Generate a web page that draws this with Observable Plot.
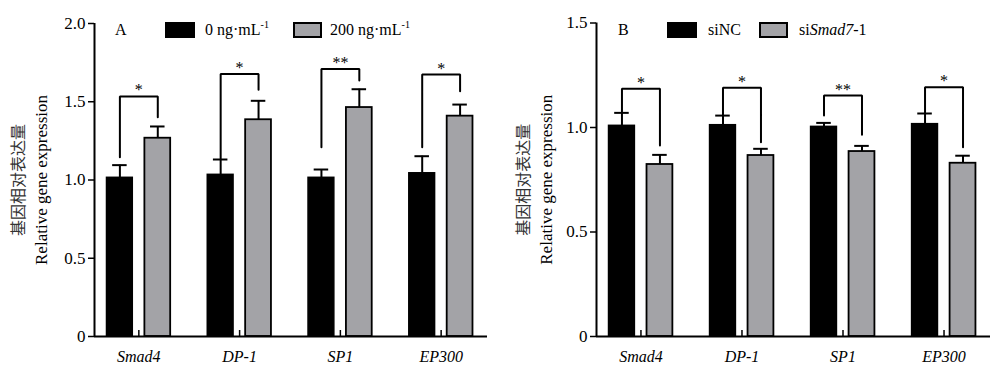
<!DOCTYPE html>
<html><head><meta charset="utf-8">
<script src="https://cdn.jsdelivr.net/npm/d3@7"></script>
<script src="https://cdn.jsdelivr.net/npm/@observablehq/plot@0.6"></script>
<style>
body{margin:0;background:#fff;}
#wrap{position:relative;width:1000px;height:378px;font-family:"Liberation Serif","Times New Roman",serif;color:#000;}
.panel{position:absolute;top:0;width:500px;height:378px;}
.lg{position:absolute;top:22px;font-size:16px;line-height:16px;white-space:nowrap;font-family:"Liberation Serif",serif;}
.lg sup{font-size:10px;position:relative;top:-2px;vertical-align:top;line-height:10px;}
.sw{position:absolute;top:22px;box-sizing:border-box;border:1.5px solid #000;height:16px;}
</style>
</head><body>
<div id="wrap">
  <div class="panel" id="pA" style="left:0"></div>
  <div class="panel" id="pB" style="left:500px"></div>
  <div class="lg" style="left:115px">A</div>
  <div class="sw" style="left:165px;width:30px;background:#000"></div>
  <div class="lg" style="left:205px">0 ng·mL<sup>-1</sup></div>
  <div class="sw" style="left:293px;width:29px;background:#a3a3a7;border-width:2px"></div>
  <div class="lg" style="left:330px">200 ng·mL<sup>-1</sup></div>
  <div class="lg" style="left:618px">B</div>
  <div class="sw" style="left:667px;width:30px;background:#000"></div>
  <div class="lg" style="left:708px">siNC</div>
  <div class="sw" style="left:759px;width:29px;background:#a3a3a7;border-width:2px"></div>
  <div class="lg" style="left:799px">si<i>Smad7</i>-1</div>
</div>
<script>
// ---- data ----
const genes = ["Smad4", "DP-1", "SP1", "EP300"];
const stars = ["*", "*", "**", "*"];

// Panel A: 0 vs 200 ng·mL-1
const ctrlA = [1.014, 1.033, 1.014, 1.043];
const ctrlErrA = [0.081, 0.098, 0.053, 0.109];
const treatA = [1.267, 1.385, 1.463, 1.408];
const treatErrA = [0.075, 0.121, 0.117, 0.074];
const bracketTopA = [1.534, 1.678, 1.71, 1.674];
const bracketLeftA = [1.146, 1.135, 1.21, 1.21];
const bracketRightA = [1.401, 1.576, 1.636, 1.567];
const yTicksA = [0, 0.5, 1.0, 1.5, 2.0];

// Panel B: siNC vs siSmad7-1
const ctrlB = [1.008, 1.011, 1.003, 1.016];
const ctrlErrB = [0.062, 0.046, 0.019, 0.051];
const treatB = [0.823, 0.866, 0.885, 0.829];
const treatErrB = [0.046, 0.032, 0.027, 0.036];
const bracketTopB = [1.185, 1.19, 1.153, 1.193];
const bracketLeftB = [1.075, 1.061, 1.057, 1.07];
const bracketRightB = [0.914, 0.93, 0.965, 0.906];
const yTicksB = [0, 0.5, 1.0, 1.5];

const titleZh = "基因相对表达量";
const titleEn = "Relative gene expression";

// ---- drawing ----
const OFF = [-0.188, 0.188], HW = 0.128, CAP = 0.072;
const XDOM = [-0.44, 3.46];
const GRAY = "#a3a3a7";
const SERIF = "Liberation Serif, serif";
const CJK = "Noto Sans CJK SC, sans-serif";

function panel(o) {
  const bars = genes.flatMap((g, i) => [
    {g, i, grp: 0, v: o.ctrl[i], e: o.ctrlErr[i]},
    {g, i, grp: 1, v: o.treat[i], e: o.treatErr[i]}
  ]);
  const cx = d => d.i + OFF[d.grp];
  const br = genes.flatMap((g, i) => [
    {g, x: i + OFF[0], y: o.bLeft[i]},
    {g, x: i + OFF[0], y: o.bTop[i]},
    {g, x: i + OFF[1], y: o.bTop[i]},
    {g, x: i + OFF[1], y: o.bRight[i]}
  ]);
  const H = 378, mt = o.mt, mb = 42;
  return Plot.plot({
    width: 500, height: H,
    marginLeft: o.ml, marginRight: o.mr, marginTop: mt, marginBottom: mb,
    style: {fontFamily: SERIF, background: "transparent"},
    x: {domain: XDOM},
    y: {domain: [0, o.yMax]},
    marks: [
      Plot.rectY(bars.filter(d => d.grp === 0), {x1: d => cx(d) - HW, x2: d => cx(d) + HW, y1: 0, y2: "v", fill: "#000", stroke: "#000", strokeWidth: 1.5}),
      Plot.rectY(bars.filter(d => d.grp === 1), {x1: d => cx(d) - HW, x2: d => cx(d) + HW, y1: 0, y2: "v", fill: GRAY, stroke: "#000", strokeWidth: 1.8}),
      Plot.ruleX(bars, {x: cx, y1: "v", y2: d => d.v + d.e, strokeWidth: 2}),
      Plot.ruleY(bars, {y: d => d.v + d.e, x1: d => cx(d) - CAP, x2: d => cx(d) + CAP, strokeWidth: 2}),
      Plot.line(br, {x: "x", y: "y", z: "g", strokeWidth: 2, strokeLinejoin: "miter"}),
      Plot.text(genes, {x: (d, i) => i, y: (d, i) => o.bTop[i], text: (d, i) => stars[i], lineAnchor: "bottom", dy: -1, fontSize: 16, fontFamily: SERIF}),
      Plot.ruleY([0], {strokeWidth: 2}),
      Plot.ruleX([XDOM[0]], {strokeWidth: 2}),
      Plot.ruleX([0, 1, 2, 3], {x: d => d, insetTop: H - mt - mb - 6, strokeWidth: 1.5}),
      Plot.axisY({ticks: o.yTicks, tickFormat: d => d === 0 ? "0" : d.toFixed(1), tickSize: 6, tickPadding: 3, fontSize: 17, fontFamily: SERIF, strokeWidth: 1.5, label: null}),
      Plot.axisX({ticks: [0, 1, 2, 3], tickFormat: i => genes[i], tickSize: 0, tickPadding: 14, fontSize: 16, fontFamily: SERIF, fontStyle: "italic", label: null}),
      Plot.text([titleZh], {text: d => d, frameAnchor: "left", textAnchor: "middle", lineAnchor: "middle", dx: o.dxZh, rotate: -90, fontSize: 16, fontFamily: CJK, fill: "#333"}),
      Plot.text([titleEn], {text: d => d, frameAnchor: "left", textAnchor: "middle", lineAnchor: "middle", dx: o.dxEn, rotate: -90, fontSize: 17, fontFamily: SERIF})
    ]
  });
}

document.getElementById("pA").append(panel({
  ctrl: ctrlA, ctrlErr: ctrlErrA, treat: treatA, treatErr: treatErrA,
  bTop: bracketTopA, bLeft: bracketLeftA, bRight: bracketRightA,
  yMax: 2, yTicks: yTicksA, ml: 94, mr: 13, mt: 23, dxZh: -76, dxEn: -53
}));
document.getElementById("pB").append(panel({
  ctrl: ctrlB, ctrlErr: ctrlErrB, treat: treatB, treatErr: treatErrB,
  bTop: bracketTopB, bLeft: bracketLeftB, bRight: bracketRightB,
  yMax: 1.5, yTicks: yTicksB, ml: 96, mr: 10, mt: 22.5, dxZh: -73, dxEn: -50
}));
</script>
</body></html>
